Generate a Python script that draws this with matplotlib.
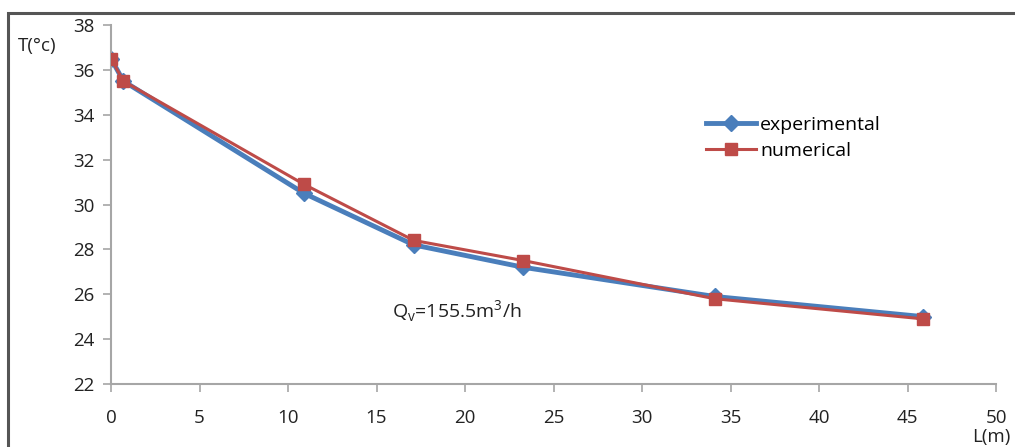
import matplotlib
matplotlib.use("Agg")
from matplotlib import pyplot as plt
from matplotlib.patches import Rectangle

# data
L_exp = [0.0, 0.7, 10.9, 17.1, 23.3, 34.1, 45.9]
T_exp = [36.5, 35.5, 30.5, 28.2, 27.2, 25.9, 25.0]

L_num = [0.0, 0.7, 10.9, 17.1, 23.3, 34.1, 45.9]
T_num = [36.5, 35.5, 30.9, 28.4, 27.5, 25.8, 24.9]

x_ticks = [0, 5, 10, 15, 20, 25, 30, 35, 40, 45, 50]
y_ticks = [22, 24, 26, 28, 30, 32, 34, 36, 38]

blue = "#4A7EBB"
red = "#BE4B48"
grey = "#A6A6A6"

plt.rcParams['font.family'] = ['Open Sans', 'DejaVu Sans']

fig = plt.figure(figsize=(10.15, 4.47), dpi=100)
ax = fig.add_axes([0.1094, 0.141, 0.8719, 0.803])

ax.plot(L_exp, T_exp, color=blue, lw=3.5, marker="D", ms=8,
        label="experimental", zorder=2)
ax.plot(L_num, T_num, color=red, lw=2.2, marker="s", ms=9,
        label="numerical", zorder=3)

ax.set_xlim(0, 50)
ax.set_ylim(22, 38)
ax.set_xticks(x_ticks)
ax.set_yticks(y_ticks)
ax.tick_params(axis="both", colors=grey, labelcolor="#222222",
               labelsize=13.5, length=6, width=1.2, direction="out")
ax.tick_params(axis="x", pad=12)
ax.tick_params(axis="y", pad=6)
for s in ("top", "right"):
    ax.spines[s].set_visible(False)
for s in ("left", "bottom"):
    ax.spines[s].set_color(grey)
    ax.spines[s].set_linewidth(1.5)

fig.text(0.018, 0.885, "T(°c)", fontsize=13.5, color="#222222")
fig.text(0.958, 0.012, "L(m)", fontsize=13.5, color="#222222")
ax.text(0.318, 0.185, r"Q$_\mathregular{v}$=155.5m$^\mathregular{3}$/h",
        transform=ax.transAxes, fontsize=14, color="#222222")

ax.legend(loc="upper left", bbox_to_anchor=(0.652, 0.795), frameon=False,
          fontsize=14, handlelength=2.6, handletextpad=0.2,
          labelspacing=0.4)

# outer chart border (cropped on right and bottom)
fig.patches.append(Rectangle((0.008, -0.1), 1.1, 1.071,
                             transform=fig.transFigure, fill=False,
                             edgecolor="#555555", lw=2.2))

fig.savefig("out.png", dpi=100)
